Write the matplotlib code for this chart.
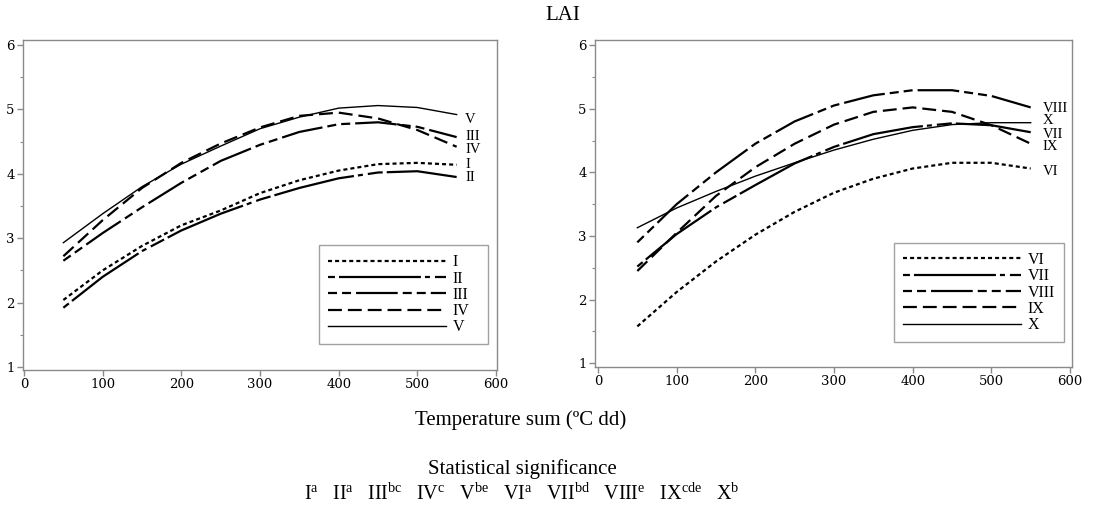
"""LAI against temperature sum for ten treatments, two panels with end labels."""

import matplotlib

matplotlib.use("Agg")
import matplotlib.pyplot as plt
from matplotlib.ticker import MultipleLocator

plt.rcParams["lines.scale_dashes"] = False
plt.rcParams["mathtext.fontset"] = "custom"
plt.rcParams["mathtext.rm"] = "Liberation Serif"
plt.rcParams["mathtext.it"] = "Liberation Serif"

SERIF = "Liberation Serif"
TICK_FONT = "DejaVu Serif"
SPINE = "#8a8a8a"

# temperature sum (degree days) where curves were read
temp_sum = [50, 100, 150, 200, 250, 300, 350, 400, 450, 500, 550]

left_names = ["I", "II", "III", "IV", "V"]
lai_I = [2.04, 2.50, 2.88, 3.20, 3.43, 3.70, 3.90, 4.05, 4.15, 4.17, 4.14]
lai_II = [1.92, 2.40, 2.80, 3.12, 3.38, 3.60, 3.78, 3.93, 4.02, 4.04, 3.95]
lai_III = [2.65, 3.08, 3.48, 3.86, 4.20, 4.45, 4.65, 4.77, 4.80, 4.73, 4.57]
lai_IV = [2.72, 3.28, 3.78, 4.17, 4.47, 4.72, 4.90, 4.95, 4.86, 4.68, 4.42]
lai_V = [2.93, 3.38, 3.80, 4.15, 4.43, 4.70, 4.88, 5.02, 5.06, 5.03, 4.92]
left_label_y = [4.14, 3.94, 4.58, 4.38, 4.84]

right_names = ["VI", "VII", "VIII", "IX", "X"]
lai_VI = [1.58, 2.12, 2.60, 3.02, 3.38, 3.68, 3.90, 4.06, 4.15, 4.15, 4.06]
lai_VII = [2.52, 3.03, 3.45, 3.80, 4.14, 4.40, 4.60, 4.71, 4.77, 4.74, 4.63]
lai_VIII = [2.90, 3.50, 4.00, 4.45, 4.80, 5.05, 5.21, 5.29, 5.29, 5.20, 5.02]
lai_IX = [2.45, 3.05, 3.63, 4.08, 4.45, 4.75, 4.95, 5.02, 4.95, 4.74, 4.45]
lai_X = [3.13, 3.44, 3.70, 3.94, 4.15, 4.35, 4.52, 4.66, 4.75, 4.78, 4.78]
right_label_y = [4.01, 4.60, 5.00, 4.40, 4.81]

significance = ["a", "a", "bc", "c", "be", "a", "bd", "e", "cde", "b"]

# line styles shared by both panels: dotted, dash-long, dash-dash-long, long dash, solid
STYLES = [
    dict(linestyle=(0, (2.9, 2.2)), linewidth=1.6),
    dict(linestyle=(74.9, (59, 2.9, 3.6, 3.6, 10.8, 2.9)), linewidth=1.6),
    dict(linestyle=(0, (6.5, 3.6, 6.5, 3.6, 30, 3.6)), linewidth=1.6),
    dict(linestyle=(0, (10, 4.3)), linewidth=1.6),
    dict(linestyle="-", linewidth=1.0),
]


def draw_panel(ax, names, series, label_y, label_x, xlim, ylim, legend_box):
    handles = []
    for name, values, style in zip(names, series, STYLES):
        (line,) = ax.plot(temp_sum, values, color="black", label=name, **style)
        handles.append(line)
    for name, y in zip(names, label_y):
        ax.text(label_x, y, name, family=SERIF, fontsize=10.5, va="center", ha="left", clip_on=False)

    ax.set_xlim(*xlim)
    ax.set_ylim(*ylim)
    ax.set_xticks(range(0, 601, 100))
    ax.set_yticks(range(1, 7))
    ax.yaxis.set_minor_locator(MultipleLocator(0.5))
    for spine in ax.spines.values():
        spine.set_color(SPINE)
        spine.set_linewidth(1.0)
    ax.tick_params(axis="both", which="major", direction="out", length=4, width=1.0, color=SPINE,
                   labelsize=9.5, pad=2)
    ax.tick_params(axis="y", which="minor", direction="out", length=2, width=0.8, color=SPINE)
    for label in ax.get_xticklabels() + ax.get_yticklabels():
        label.set_family(TICK_FONT)

    legend = ax.legend(
        handles=handles, loc="lower left", bbox_to_anchor=legend_box, mode="expand", frameon=True,
        fancybox=False, prop={"family": SERIF, "size": 11.5}, handlelength=7.4, handletextpad=0.4,
        labelspacing=0.02, borderpad=0.55, borderaxespad=0.0,
    )
    frame = legend.get_frame()
    frame.set_edgecolor(SPINE)
    frame.set_linewidth(1.0)
    return ax


def main() -> None:
    fig = plt.figure(figsize=(11.13, 5.26), dpi=100)
    W, H = 1113, 526
    ax_left = fig.add_axes([23 / W, 1 - 370 / H, (497 - 23) / W, (370 - 40) / H])
    ax_right = fig.add_axes([595 / W, 1 - 367 / H, (1072 - 595) / W, (367 - 40) / H])

    draw_panel(ax_left, left_names, [lai_I, lai_II, lai_III, lai_IV, lai_V], left_label_y, 561,
               (-1.3, 601.3), (0.953, 6.078), (0.625, 0.078, 0.357, 0.3))
    draw_panel(ax_right, right_names, [lai_VI, lai_VII, lai_VIII, lai_IX, lai_X], right_label_y, 565,
               (-3.8, 602.5), (0.942, 6.079), (0.627, 0.076, 0.356, 0.3))

    fig.text(563 / W, 1 - 15 / H, "LAI", family=SERIF, fontsize=15, ha="center", va="center")
    fig.text(521 / W, 1 - 420 / H, "Temperature sum (ºC dd)", family=SERIF, fontsize=15,
             ha="center", va="center")
    fig.text(522 / W, 1 - 469 / H, "Statistical significance", family=SERIF, fontsize=15,
             ha="center", va="center")
    parts = [f"{name}$^{{\\mathrm{{{sig}}}}}$" for name, sig in zip(left_names + right_names, significance)]
    fig.text(522 / W, 1 - 494 / H, "   ".join(parts), family=SERIF, fontsize=14.5, ha="center", va="center")

    fig.savefig("out.png", dpi=100)
    plt.close(fig)


if __name__ == "__main__":
    main()
